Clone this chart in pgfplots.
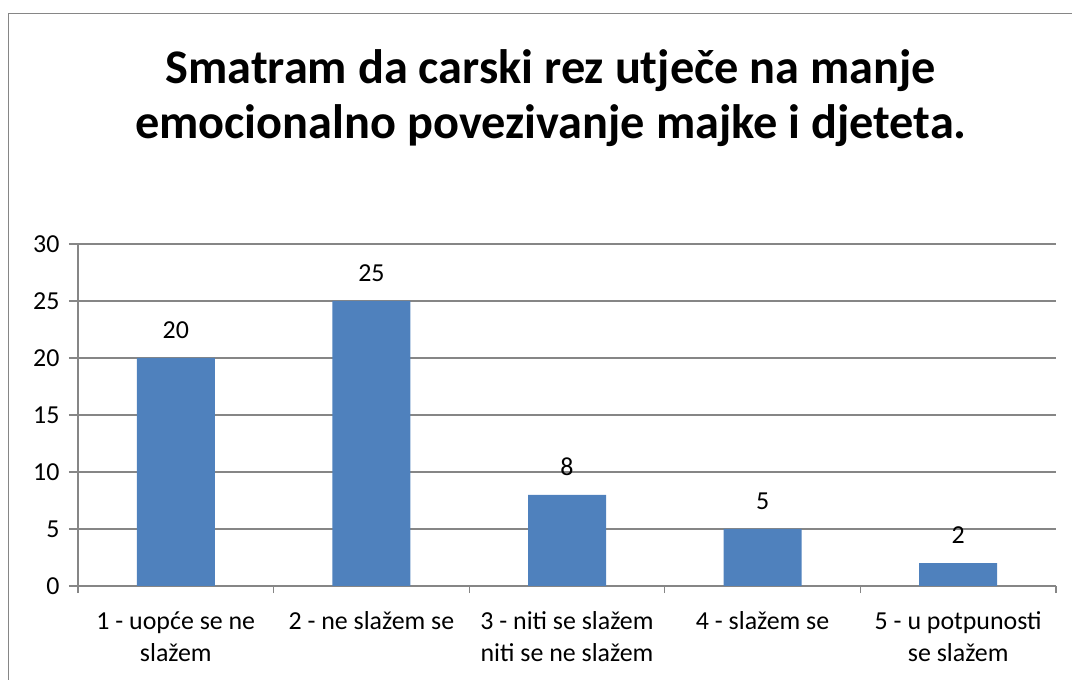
\documentclass[border=0pt]{standalone}
\usepackage{pgfplots}
\pgfplotsset{compat=1.18}
\usepackage{fontspec}
\setmainfont{Carlito}
\definecolor{barblue}{HTML}{4F81BD}
\definecolor{axgray}{HTML}{868686}
\begin{document}
\begin{tikzpicture}
\useasboundingbox (0bp,0bp) rectangle (1072bp,680bp);
\draw[axgray, line width=1.5bp] (8.5bp,-10bp) rectangle (1085bp,666.5bp);
\node[font=\fontsize{48.5}{55}\selectfont\bfseries, align=center] at (551bp,582bp) {Smatram da carski rez utječe na manje\\emocionalno povezivanje majke i djeteta.};
\begin{axis}[
  at={(78bp,94bp)}, anchor=south west,
  scale only axis, width=978bp, height=342bp,
  xmin=0.5, xmax=5.5, ymin=0, ymax=30,
  /pgf/number format/assume math mode=true,
  axis x line*=bottom, axis y line*=left,
  axis line style={axgray, line width=1.2bp, -},
  ytick={0,5,...,30},
  ymajorgrids, grid style={axgray, line width=1.2bp},
  xtick={1,...,5},
  xticklabels={{1 - uopće se ne\\slažem},{2 - ne slažem se},{3 - niti se slažem\\niti se ne slažem},{4 - slažem se},{5 - u potpunosti\\se slažem}},
  xticklabel style={align=center, font=\fontsize{26}{32}\selectfont, anchor=north, yshift=-13bp},
  yticklabel style={font=\fontsize{26}{30}\selectfont, xshift=-6bp},
  major x tick style={draw=none},
  minor xtick={0.5,1.5,...,5.5},
  tick align=outside,
  major tick length=9bp, minor tick length=7bp,
  tick style={axgray, line width=1.2bp},
  ybar, bar width=78bp,
  nodes near coords,
  every node near coord/.append style={font=\fontsize{26}{30}\selectfont, text=black, yshift=16bp},
]
\addplot[fill=barblue, draw=none] coordinates {(1,20) (2,25) (3,8) (4,5) (5,2)};
\end{axis}
\end{tikzpicture}
\end{document}
